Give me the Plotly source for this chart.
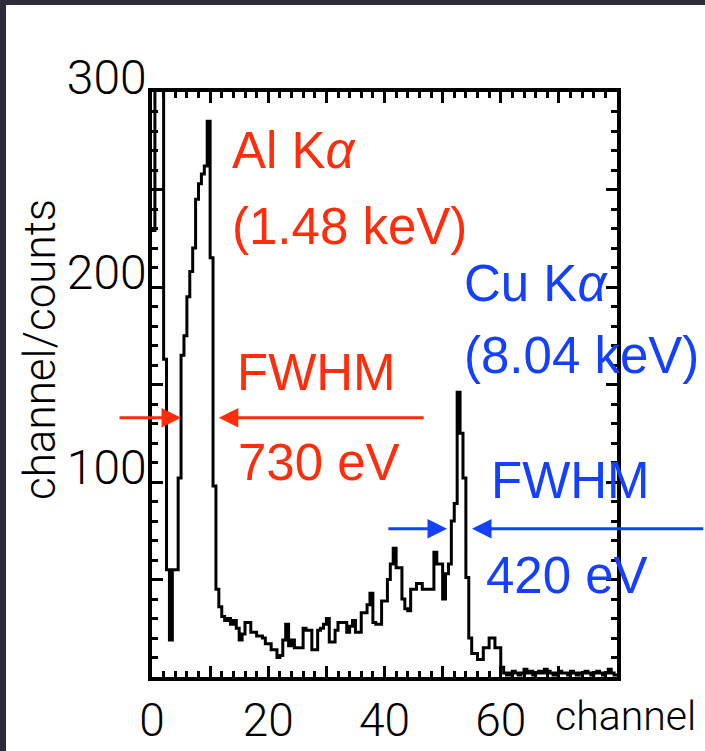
import numpy as np
import plotly.graph_objects as go

# Pulse-height spectrum: counts per half-channel bin, channels 0-80
BIN_WIDTH = 0.5
counts = [
    229, 360, 360, 360, 163, 55, 19, 55, 55, 102,
    165, 175, 195, 208, 220, 245, 253, 258, 262, 285,
    215, 98, 45, 36, 31, 29, 30, 27, 29, 25,
    19, 22, 28, 28, 23, 23, 21, 21, 20, 17,
    17, 14, 14, 10, 11, 19, 27, 16, 19, 15,
    15, 15, 25, 24, 24, 14, 14, 24, 25, 27,
    30, 18, 18, 24, 28, 28, 28, 23, 26, 29,
    23, 23, 33, 33, 37, 43, 28, 27, 27, 39,
    39, 50, 58, 66, 56, 56, 40, 35, 34, 45,
    45, 48, 48, 45, 45, 45, 45, 64, 58, 58,
    40, 53, 58, 80, 89, 146, 125, 102, 51, 20,
    12, 12, 9, 9, 15, 15, 20, 20, 15, 15,
    5, 2, 1, 2, 3, 2, 1, 2, 4, 2,
    3, 1, 2, 3, 2, 4, 3, 2, 1, 2,
    3, 2, 2, 1, 3, 2, 1, 2, 2, 3,
    2, 1, 2, 3, 2, 1, 2, 4, 2, 1,
]

# Axis ticks
x_tickvals = [0, 10, 20, 30, 40, 50, 60, 70, 80]
x_ticktext = ["0", "", "20", "", "40", "", "60", "", ""]
y_tickvals = [0, 50, 100, 150, 200, 250, 300]
y_ticktext = ["", "", "100", "", "200", "", "300"]

# Peak labels (channel, counts, text)
RED = "#ff2d0a"
BLUE = "#1440ff"
al_labels = [(13.4, 270, "Al K<i>α</i>"), (13.4, 231, "(1.48 keV)"),
             (14.2, 156, "FWHM"), (14.5, 110, "730 eV")]
cu_labels = [(53.4, 202, "Cu K<i>α</i>"), (53.4, 165, "(8.04 keV)"),
             (58.0, 101, "FWHM"), (57.2, 52, "420 eV")]

# FWHM arrows: (tail channel, head channel, counts level)
al_fwhm_arrows = [(-5.85, 5.0, 133), (47.0, 11.5, 133)]
cu_fwhm_arrows = [(40.4, 50.75, 76), (95.1, 55.05, 76)]

edges = np.arange(len(counts)) * BIN_WIDTH
x_step = np.append(edges, len(counts) * BIN_WIDTH)
y_step = np.append(counts, counts[-1])

W, H = 705, 751
ML, MR, MT, MB = 152, 88, 92, 74
PW, PH = W - ML - MR, H - MT - MB


def paper_x(px):
    return (px - ML) / PW


def paper_y(py):
    return (H - MB - py) / PH


fig = go.Figure()
fig.add_trace(go.Scatter(
    x=x_step, y=y_step, mode="lines", line_shape="hv",
    line=dict(color="black", width=3), showlegend=False, hoverinfo="skip",
))

annotations = []
for (cx, cy, txt), col in [(a, RED) for a in al_labels] + [(b, BLUE) for b in cu_labels]:
    annotations.append(dict(
        x=cx, y=cy, xref="x", yref="y", text=txt, showarrow=False,
        xanchor="left", yanchor="middle",
        font=dict(family="Liberation Sans", size=51, color=col),
    ))

for arrows, col in [(al_fwhm_arrows, RED), (cu_fwhm_arrows, BLUE)]:
    for tail, head, lvl in arrows:
        annotations.append(dict(
            x=head, y=lvl, ax=tail, ay=lvl, xref="x", yref="y",
            axref="x", ayref="y", text="", showarrow=True,
            arrowhead=2, arrowsize=1.3, arrowwidth=3, arrowcolor=col,
            standoff=0, startstandoff=0,
        ))

x_font = dict(family="Roboto", size=46, color="black", weight=300)
y_font = dict(family="Roboto", size=48, color="black", weight=300)
annotations.append(dict(
    x=paper_x(40), y=paper_y(350), xref="paper", yref="paper",
    text="channel/counts", textangle=-90, showarrow=False,
    xanchor="center", yanchor="middle",
    font=dict(family="Roboto", size=44, color="black", weight=300),
))
annotations.append(dict(
    x=paper_x(553), y=paper_y(716), xref="paper", yref="paper",
    text="channel", showarrow=False, xanchor="left", yanchor="middle",
    font=dict(family="Roboto", size=41, color="black", weight=300),
))

frame_col = "#2e2c3b"
shapes = [
    dict(type="rect", xref="paper", yref="paper", layer="above",
         x0=paper_x(0), x1=paper_x(6), y0=paper_y(H), y1=paper_y(0),
         fillcolor=frame_col, line_width=0),
    dict(type="rect", xref="paper", yref="paper", layer="above",
         x0=paper_x(0), x1=paper_x(W), y0=paper_y(5), y1=paper_y(0),
         fillcolor=frame_col, line_width=0),
]

tick_style = dict(ticks="inside", ticklen=11, tickwidth=2.5, tickcolor="black",
                  showgrid=False, zeroline=False, automargin=False)
x_minor = dict(ticks="inside", ticklen=6, tickwidth=2.5, tickcolor="black",
               dtick=2, tick0=0)
y_minor = dict(ticks="inside", ticklen=6, tickwidth=2.5, tickcolor="black",
               dtick=10, tick0=0)

fig.update_layout(
    width=W, height=H,
    margin=dict(l=ML, r=MR, t=MT, b=MB, autoexpand=False),
    paper_bgcolor="white", plot_bgcolor="white",
    annotations=annotations, shapes=shapes,
    xaxis=dict(tick_style, range=[0, 80], tickmode="array",
               tickvals=x_tickvals, ticktext=x_ticktext, tickfont=x_font,
               showline=True, linewidth=3.5, linecolor="black", mirror=True,
               minor=x_minor),
    yaxis=dict(tick_style, range=[0, 300], tickmode="array",
               tickvals=y_tickvals, ticktext=y_ticktext, tickfont=y_font,
               showline=True, linewidth=3.5, linecolor="black", mirror=True,
               ticklabelstandoff=-8, ticklabelshift=-15,
               minor=y_minor),
    # opposite-side tick marks (top and right), no labels
    xaxis2=dict(tick_style, range=[0, 80], overlaying="x", side="top",
                tickmode="array", tickvals=x_tickvals, showticklabels=False,
                showline=False, minor=x_minor),
    yaxis2=dict(tick_style, range=[0, 300], overlaying="y", side="right",
                tickmode="array", tickvals=y_tickvals, showticklabels=False,
                showline=False, minor=y_minor),
)

# invisible trace anchoring the top/right tick axes
fig.add_trace(go.Scatter(x=[0, 80], y=[0, 300], xaxis="x2", yaxis="y2",
                         mode="markers", marker=dict(opacity=0),
                         showlegend=False, hoverinfo="skip"))

fig.write_html("out.html", config={"displayModeBar": False})
